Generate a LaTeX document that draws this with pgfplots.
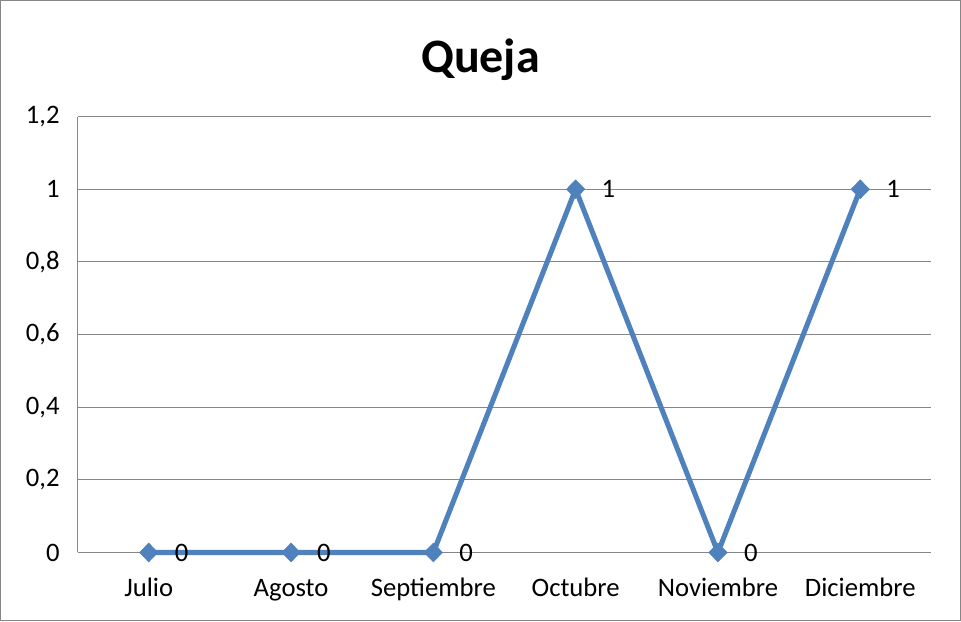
\documentclass[border=0pt]{standalone}
\usepackage{pgfplots}
\pgfplotsset{compat=1.18}
\usepackage{fontspec}
\setmainfont{Carlito}
\definecolor{serie}{HTML}{4F81BD}
\definecolor{gridgray}{HTML}{868686}
\begin{document}
\begin{tikzpicture}[x=0.75pt,y=0.75pt]
\begin{axis}[
  at={(0,0)}, anchor=south west,
  scale only axis,
  width=640.5pt, height=327pt,
  xmin=-0.5, xmax=5.5, ymin=0, ymax=1.2,
  xtick={0,1,2,3,4,5},
  xticklabels={Julio,Agosto,Septiembre,Octubre,Noviembre,Diciembre},
  ytick={0,0.2,0.4,0.6,0.8,1,1.2},
  axis x line=bottom, axis y line=left,
  axis line style={draw=gridgray, line width=0.9pt, -},
  xmajorgrids=false, ymajorgrids=true,
  grid style={draw=gridgray, line width=0.9pt},
  major tick length=0pt,
  tick style={draw=none},
  /pgf/number format/use comma,
  /pgf/number format/fixed,
  /pgf/number format/precision=1,
  /pgf/number format/assume math mode=true,
  ticklabel style={font=\fontsize{20}{24}\selectfont, text=black},
  yticklabel style={xshift=-10pt},
  xticklabel style={yshift=-22.5pt, text height=0.7em, text depth=0.22em},
  clip=false,
]
\addplot[serie, line width=3.8pt, mark=diamond*, mark size=7pt,
  mark options={xscale=1.3, line width=0.5pt},
  nodes near coords, point meta=explicit symbolic,
  every node near coord/.style={anchor=west, xshift=16pt, yshift=0pt, text=black, font=\fontsize{20}{24}\selectfont}]
  table[meta=lab] {
x y lab
0 0 0
1 0 0
2 0 0
3 1 1
4 0 0
5 1 1
};
\end{axis}
\draw[gridgray, line width=0.9pt] (-77,-68) rectangle (883,552);
\node[font=\fontsize{36}{43}\selectfont\bfseries] at (403,493) {Queja};
\end{tikzpicture}
\end{document}
